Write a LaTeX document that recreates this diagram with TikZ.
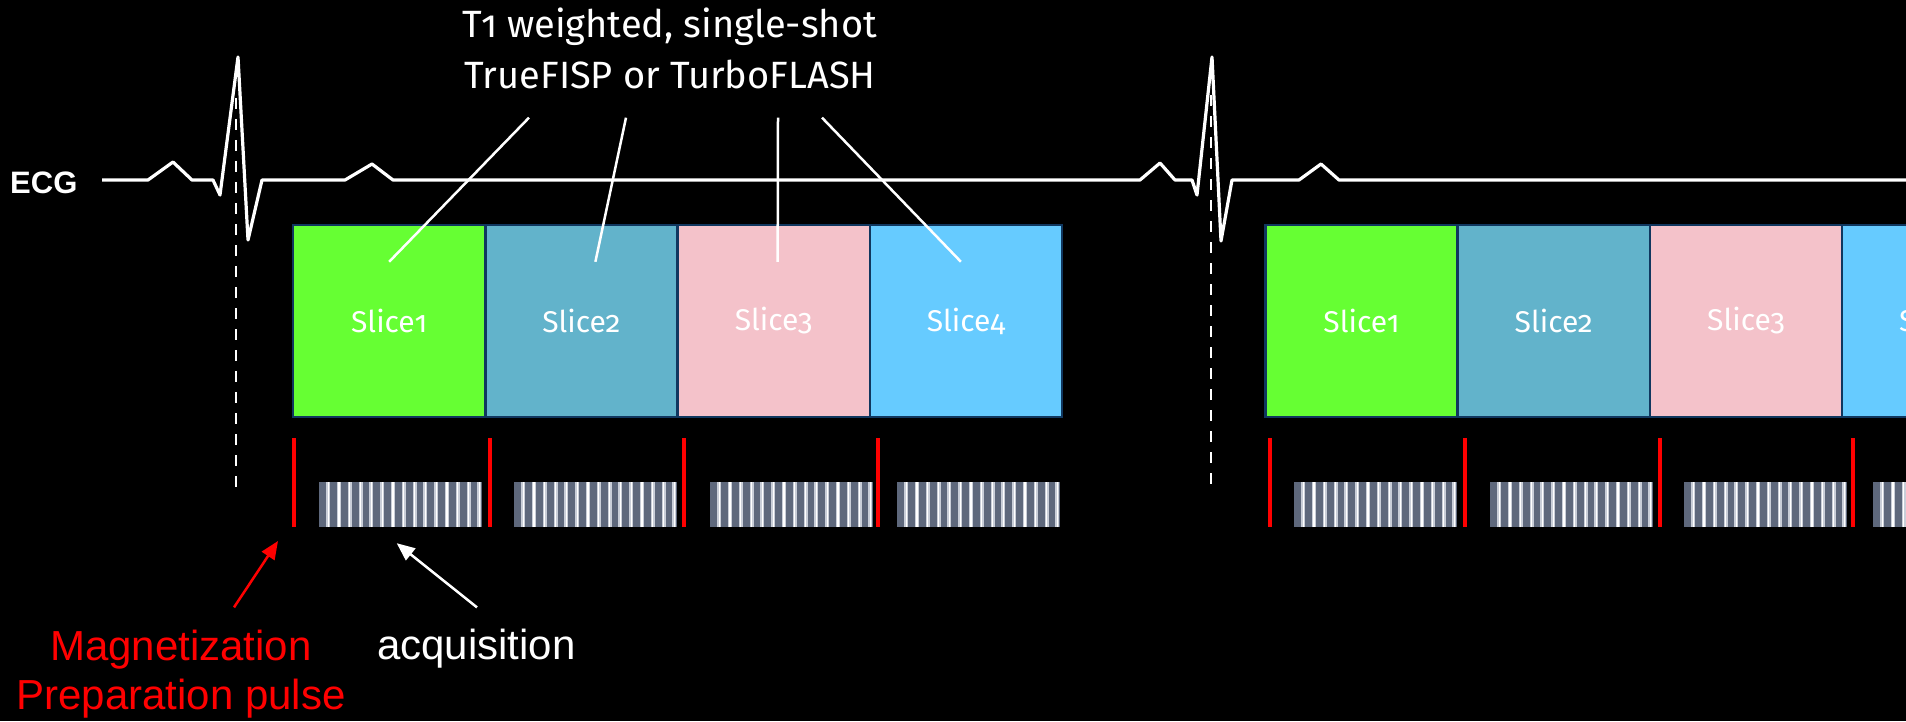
\documentclass[tikz,border=0pt]{standalone}
\usepackage{fontspec}
\setmainfont{Fira Sans}[Numbers=OldStyle]
\newfontfamily\arialfont{Liberation Sans}
\usetikzlibrary{arrows.meta}

\definecolor{sliceA}{HTML}{66FF33}
\definecolor{sliceB}{HTML}{62B3CB}
\definecolor{sliceC}{HTML}{F4C2CA}
\definecolor{sliceD}{HTML}{66CBFF}
\definecolor{sliceedge}{HTML}{10375F}
\definecolor{readout}{HTML}{5E687C}
\definecolor{readstripe}{HTML}{C9CED8}
\definecolor{pulsered}{HTML}{FF0000}

\begin{document}
\begin{tikzpicture}[x=1pt, y=-1pt]
    \tikzset{
        slice/.style={draw=sliceedge, line width=2.5pt, minimum width=192.3pt, minimum height=192pt,
            inner sep=0pt, text=white, font=\fontsize{30}{36}\selectfont},
        ecg/.style={white, line width=3.2pt, line join=round},
        trigger/.style={white, line width=2.5pt, dash pattern=on 11pt off 10pt},
        callout/.style={white, line width=2.5pt},
        pulse/.style={pulsered, line width=4pt},
        acqbox/.style={fill=readout, minimum width=163pt, minimum height=45pt, inner sep=0pt, anchor=west,
            path picture={
                \foreach \s in {0,...,14} {
                    \draw[readstripe, line width=4pt] ([xshift=9pt+10.8pt*\s]path picture bounding box.south west) -- ([xshift=9pt+10.8pt*\s]path picture bounding box.north west);
                    \draw[white, line width=1.2pt] ([xshift=9pt+10.8pt*\s]path picture bounding box.south west) -- ([xshift=9pt+10.8pt*\s]path picture bounding box.north west);
                }
            }},
        label arrow/.style={line width=2.5pt, -{Triangle[length=18pt, width=15pt]}}
    }
    \fill[black] (0,0) rectangle (1906,721);
    \useasboundingbox (0,0) rectangle (1906,721);

    % slices of the two heart beats
    \foreach \col [count=\i] in {sliceA, sliceB, sliceC, sliceD} {
        \node[slice, fill=\col] (a\i) at (389.15+192.25*\i-192.25, 321) {Slice\i};
        \node[slice, fill=\col] (b\i) at (1361.5+192.25*\i-192.25, 321) {Slice\i};
    }

    % preparation pulses and readouts
    \foreach \p/\r [count=\i] in {294/319, 490/514, 684/710, 878/897, 1270/1294, 1465/1490, 1660/1684, 1853/1873} {
        \draw[pulse] (\p,438) -- (\p,527);
        \node[acqbox] (r\i) at (\r,504.5) {};
    }

    % ECG trace
    \node[anchor=base west, inner sep=0pt, text=white, font=\arialfont\bfseries\fontsize{31}{37}\selectfont] (ecglabel) at (10,193) {ECG};
    \draw[ecg] (102,180) -- (148,180) -- (173,162) -- (192,180) -- (213,180) -- (220,195) -- (238,57) -- (248,240) -- (262,180)
        -- (345,180) -- (372,164) -- (393,180) -- (1140,180) -- (1160,163) -- (1175,180) -- (1192,180) -- (1197,195)
        -- (1212,57) -- (1221,241) -- (1232,180) -- (1299,180) -- (1321,164) -- (1339,180) -- (1906,180);
    \draw[trigger] (236,98) -- (236,493);
    \draw[trigger] (1211,95) -- (1211,492);

    % sequence label
    \node[align=center, inner sep=0pt, text=white, font=\fontsize{38}{51}\selectfont, anchor=base] (seq) at (670,88) {T1 weighted, single-shot\\TrueFISP or TurboFLASH};
    \draw[callout] ([xshift=-141pt, yshift=-29pt]seq.south) -- ([yshift=-38pt]a1.north);
    \draw[callout] ([xshift=-44pt, yshift=-29pt]seq.south) -- ([xshift=14pt, yshift=-38pt]a2.north);
    \draw[callout] ([xshift=108pt, yshift=-29pt]seq.south) -- ([xshift=4pt, yshift=-38pt]a3.north);
    \draw[callout] ([xshift=152pt, yshift=-29pt]seq.south) -- ([xshift=-5pt, yshift=-38pt]a4.north);

    % bottom labels
    \node[align=center, inner sep=0pt, text=pulsered, font=\arialfont\fontsize{42}{49}\selectfont, anchor=base] (preplabel) at (181,709) {Magnetization\\Preparation pulse};
    \node[inner sep=0pt, text=white, font=\arialfont\fontsize{42}{49}\selectfont, anchor=base] (acqlabel) at (476.5,659) {acquisition};
    \coordinate (preptip) at (278,541);
    \draw[label arrow, pulsered] ([xshift=53pt, yshift=22pt]preplabel.north) -- (preptip);
    \draw[label arrow, white] ([xshift=0.5pt, yshift=21pt]acqlabel.north) -- ([xshift=-4pt, yshift=-16pt]r1.south);
\end{tikzpicture}
\end{document}
